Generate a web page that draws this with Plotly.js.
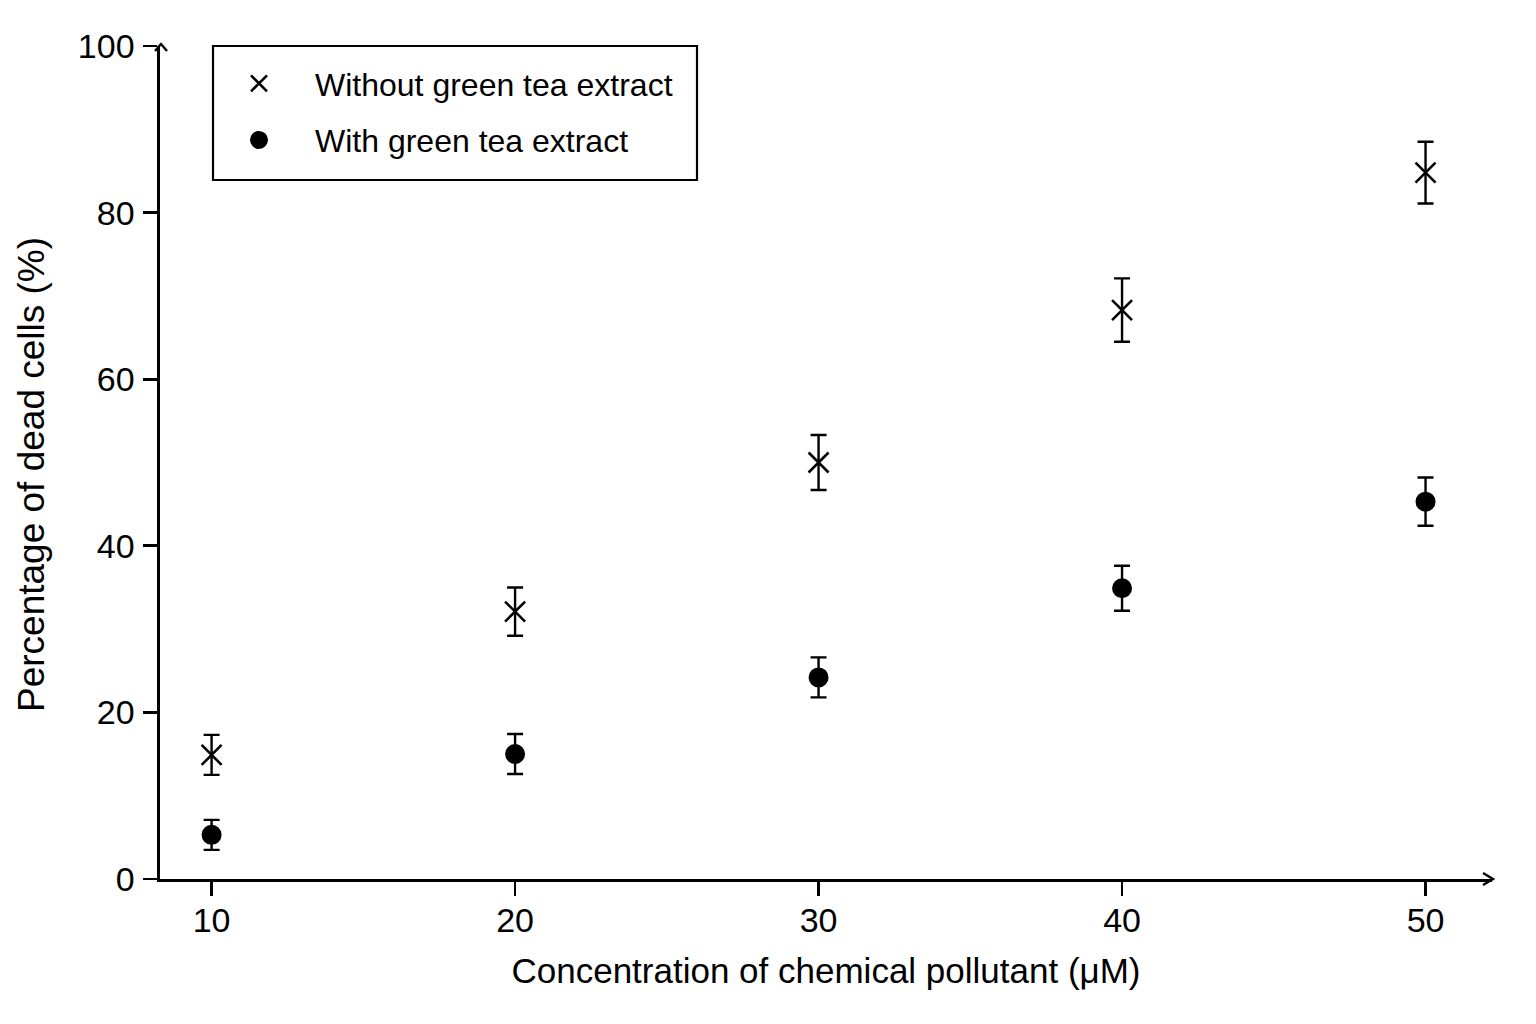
<!DOCTYPE html>
<html>
<head>
<meta charset="utf-8">
<script src="https://cdn.plot.ly/plotly-3.0.1.min.js"></script>
<style>html,body{margin:0;padding:0;background:#fff;}#chart{width:1536px;height:1024px;}</style>
</head>
<body>
<div id="chart"></div>
<script>
const concentration = [10, 20, 30, 40, 50];
const withoutExtract = [14.9, 32.1, 50.0, 68.3, 84.8];
const withoutError = [2.4, 2.9, 3.3, 3.8, 3.7];
const withExtract = [5.3, 15.0, 24.2, 34.9, 45.3];
const withError = [1.8, 2.4, 2.4, 2.7, 2.9];
const seriesNames = ["Without green tea extract", "With green tea extract"];
const xTicks = [10, 20, 30, 40, 50];
const yTicks = [0, 20, 40, 60, 80, 100];
const xTitle = "Concentration of chemical pollutant (μM)";
const yTitle = "Percentage of dead cells (%)";

const FONT = "Liberation Sans, Arial, Helvetica, sans-serif";
const L = 160, R = 1492, T = 46, B = 879, WID = 1536, HEI = 1024;
const PW = R - L, PH = B - T;
const px = x => (x - L) / PW;
const py = y => (B - y) / PH;

const traces = [
  {
    x: concentration, y: withoutExtract, name: seriesNames[0],
    type: "scatter", mode: "markers", legendgroup: "a",
    marker: {symbol: "x-thin", size: 20, color: "#000", line: {color: "#000", width: 2.6}},
    error_y: {type: "data", array: withoutError, visible: true, color: "#000", thickness: 2.4, width: 8}
  },
  {
    x: concentration, y: withExtract, name: seriesNames[1],
    type: "scatter", mode: "markers", legendgroup: "b",
    marker: {symbol: "circle", size: 18, color: "#000", line: {color: "#000", width: 2}},
    error_y: {type: "data", array: withError, visible: true, color: "#000", thickness: 2.4, width: 8}
  }
];

const arrowY = `M${px(155)},${py(51)} L${px(161)},${py(44)} L${px(167)},${py(51)}`;
const arrowX = `M${px(1483)},${py(873)} L${px(1493)},${py(879)} L${px(1483)},${py(885)}`;

const layout = {
  width: WID, height: HEI,
  margin: {l: L, r: WID - R, t: T, b: HEI - B, pad: 0},
  paper_bgcolor: "#fff", plot_bgcolor: "#fff",
  font: {family: FONT, size: 32, color: "#000"},
  showlegend: true,
  legend: {
    x: px(203), y: py(56), xanchor: "left", yanchor: "top",
    borderwidth: 0, bgcolor: "rgba(0,0,0,0)",
    font: {family: FONT, size: 32, color: "#000"},
    traceorder: "grouped", tracegroupgap: 12, itemwidth: 102
  },
  xaxis: {
    range: [8.30, 52.19], tickvals: xTicks, ticktext: xTicks.map(String),
    showgrid: false, zeroline: false, showline: true, linecolor: "#000", linewidth: 2.6,
    ticks: "outside", ticklen: 14, tickwidth: 2.6, tickcolor: "#000",
    tickfont: {family: FONT, size: 34, color: "#000"},
    ticklabelstandoff: -4,
    title: {text: xTitle, font: {family: FONT, size: 35, color: "#000"}, standoff: 20},
    fixedrange: true
  },
  yaxis: {
    range: [0, 100], tickvals: yTicks, ticktext: yTicks.map(String),
    showgrid: false, zeroline: false, showline: true, linecolor: "#000", linewidth: 2.6,
    ticks: "outside", ticklen: 14, tickwidth: 2.6, tickcolor: "#000",
    tickfont: {family: FONT, size: 34, color: "#000"},
    ticklabelstandoff: 2,
    fixedrange: true
  },
  annotations: [
    {text: yTitle, xref: "paper", yref: "paper", x: px(31), y: py(475),
     xanchor: "center", yanchor: "middle", textangle: -90, showarrow: false,
     font: {family: FONT, size: 37, color: "#000"}}
  ],
  shapes: [
    {type: "path", xref: "paper", yref: "paper", path: arrowY, line: {color: "#000", width: 2.4}},
    {type: "path", xref: "paper", yref: "paper", path: arrowX, line: {color: "#000", width: 2.4}},
    {type: "rect", xref: "paper", yref: "paper", x0: px(213), x1: px(697), y0: py(46), y1: py(180),
     line: {color: "#000", width: 2.2}, fillcolor: "rgba(0,0,0,0)", layer: "above"}
  ]
};

Plotly.newPlot("chart", traces, layout, {staticPlot: true, displayModeBar: false});
</script>
</body>
</html>
